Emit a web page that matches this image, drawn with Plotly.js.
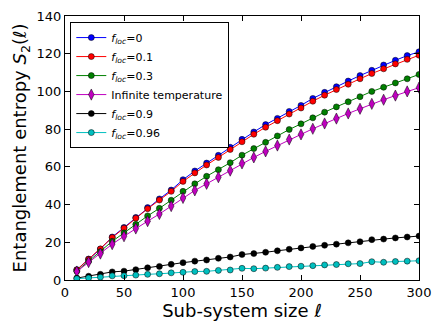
<!DOCTYPE html>
<html>
<head>
<meta charset="utf-8">
<script src="https://cdn.plot.ly/plotly-3.0.1.min.js"></script>
<style>
  html, body { margin: 0; padding: 0; background: #fff; }
  #chart { width: 443px; height: 332px; }
</style>
</head>
<body>
<div id="chart"></div>
<script>
// Sub-system sizes
const sizes = [10, 20, 30, 40, 50, 60, 70, 80, 90, 100, 110, 120, 130, 140, 150,
  160, 170, 180, 190, 200, 210, 220, 230, 240, 250, 260, 270, 280, 290, 300];

// Entanglement entropy S2 for each case
const floc0 = [5.5, 11.1, 16.4, 22.8, 27.9, 33.2, 38.4, 43.0, 47.7, 53.2, 57.8, 62.0, 66.1, 70.4, 74.6,
  78.5, 82.4, 85.7, 89.4, 92.6, 96.3, 99.5, 102.5, 105.5, 108.4, 111.2, 114.0, 116.5, 119.0, 121.0];
const floc01 = [5.3, 11.0, 16.5, 22.5, 27.5, 32.8, 37.8, 42.4, 47.0, 52.3, 56.8, 61.0, 65.0, 69.2, 73.3,
  77.3, 81.0, 84.5, 88.0, 91.2, 94.8, 98.0, 101.0, 103.8, 106.7, 109.5, 112.0, 114.6, 117.0, 119.2];
const floc03 = [4.7, 10.0, 15.0, 20.5, 25.0, 29.5, 34.0, 38.0, 42.3, 47.0, 51.0, 55.0, 58.5, 62.2, 66.2,
  69.7, 73.0, 76.4, 79.8, 82.8, 86.0, 89.0, 91.8, 94.5, 97.2, 100.0, 102.2, 104.5, 106.7, 109.0];
const infTemp = [4.5, 9.5, 14.0, 19.0, 23.2, 27.3, 31.2, 35.0, 39.2, 43.5, 47.5, 51.0, 54.5, 58.0, 61.8,
  65.0, 68.2, 71.3, 74.5, 77.2, 80.2, 83.0, 85.6, 88.3, 90.8, 93.4, 95.6, 97.8, 100.0, 102.0];
const floc09 = [1.0, 2.0, 3.0, 4.3, 4.7, 5.5, 6.5, 7.2, 8.3, 9.2, 10.0, 10.6, 11.5, 12.2, 13.5,
  14.0, 14.7, 15.5, 16.3, 17.0, 17.8, 18.4, 19.0, 19.7, 20.3, 21.4, 21.7, 22.3, 22.8, 23.3];
const floc096 = [0.7, 1.1, 1.5, 2.2, 2.3, 2.6, 3.0, 3.3, 3.8, 4.1, 4.5, 4.6, 5.1, 5.3, 6.2,
  6.0, 6.3, 6.7, 7.1, 7.3, 7.6, 8.0, 8.2, 8.6, 8.7, 9.7, 9.4, 9.8, 10.0, 10.2];

const seriesNames = ["<i>f</i><sub><i>loc</i></sub>=0", "<i>f</i><sub><i>loc</i></sub>=0.1",
  "<i>f</i><sub><i>loc</i></sub>=0.3", "Infinite temperature",
  "<i>f</i><sub><i>loc</i></sub>=0.9", "<i>f</i><sub><i>loc</i></sub>=0.96"];
const seriesValues = [floc0, floc01, floc03, infTemp, floc09, floc096];
const seriesColors = ["#0000ff", "#ff0000", "#008000", "#bf00bf", "#000000", "#00bfbf"];
const seriesSymbols = ["circle", "circle", "circle", "diamond-tall", "circle", "circle"];

const traces = seriesValues.map((vals, i) => ({
  x: sizes,
  y: vals,
  type: "scatter",
  mode: "lines+markers",
  name: seriesNames[i],
  line: { color: seriesColors[i], width: 1 },
  marker: {
    symbol: seriesSymbols[i],
    color: seriesColors[i],
    size: seriesSymbols[i] === "circle" ? 6 : 8,
    line: { color: "#000", width: 0.5 },
  },
}));

const axisCommon = {
  showgrid: false,
  zeroline: false,
  showline: true,
  linecolor: "#000",
  linewidth: 1,
  mirror: "ticks",
  ticks: "inside",
  ticklen: 5,
  tickcolor: "#000",
  tickfont: { family: "DejaVu Sans", size: 13, color: "#000" },
};

const layout = {
  width: 443,
  height: 332,
  margin: { l: 65, r: 24, t: 16, b: 52 },
  paper_bgcolor: "#fff",
  plot_bgcolor: "#fff",
  showlegend: true,
  xaxis: Object.assign({}, axisCommon, {
    range: [0, 300],
    dtick: 50,
    title: { text: "Sub-system size <i>ℓ</i>", font: { family: "DejaVu Sans", size: 18, color: "#000" }, standoff: 3 },
  }),
  yaxis: Object.assign({}, axisCommon, {
    range: [0, 140],
    dtick: 20,
    title: { text: "Entanglement entropy <i>S</i><sub>2</sub>(<i>ℓ</i>)", font: { family: "DejaVu Sans", size: 18, color: "#000" }, standoff: 5 },
  }),
  legend: {
    x: 0.015,
    y: 0.977,
    xanchor: "left",
    yanchor: "top",
    bgcolor: "#fff",
    bordercolor: "#000",
    borderwidth: 1,
    font: { family: "DejaVu Sans", size: 11, color: "#000" },
    tracegroupgap: 0,
    itemwidth: 30,
  },
};

Plotly.newPlot("chart", traces, layout, { displayModeBar: false, staticPlot: true });
</script>
</body>
</html>
